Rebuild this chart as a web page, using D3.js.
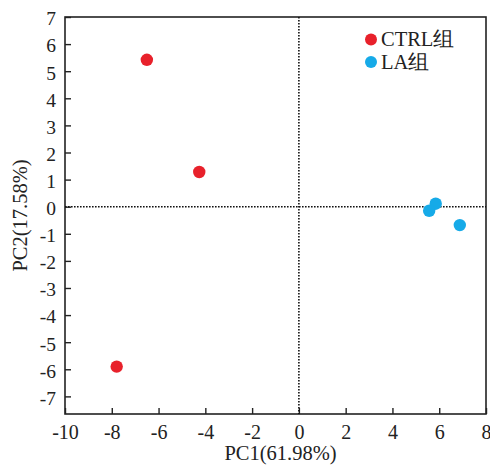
<!DOCTYPE html>
<html><head><meta charset="utf-8">
<script src="https://cdn.jsdelivr.net/npm/d3@7/dist/d3.min.js"></script>
<style>
body{margin:0;background:#fff;}
text{font-family:"Liberation Serif","Times New Roman",serif;fill:#222;}
</style></head>
<body><svg id="c" width="490" height="465"></svg>
<script>
const groups = ["CTRL组", "LA组"];
const colors = ["#e8212b", "#16aae8"];
const ctrlPC1 = [-6.5, -4.26, -7.79];
const ctrlPC2 = [5.42, 1.28, -5.9];
const laPC1 = [5.85, 5.57, 6.88];
const laPC2 = [0.11, -0.15, -0.68];
const xTicks = [-10, -8, -6, -4, -2, 0, 2, 4, 6, 8];
const yTicks = [-7, -6, -5, -4, -3, -2, -1, 0, 1, 2, 3, 4, 5, 6, 7];
const xTitle = "PC1(61.98%)";
const yTitle = "PC2(17.58%)";

const svg = d3.select("#c");
const L = 65, R = 486, T = 17, B = 414;
const x = d3.scaleLinear().domain([-10, 8]).range([L, R]);
const y = d3.scaleLinear().domain([-7.65, 7]).range([B, T]);

// x axis
const gx = svg.append("g").attr("transform", `translate(0,${B})`)
  .call(d3.axisBottom(x).tickValues(xTicks).tickSizeInner(-6).tickSizeOuter(0).tickPadding(11));
gx.select(".domain").remove();
gx.selectAll("line").attr("stroke", "#222").attr("stroke-width", 1.4);
gx.selectAll("text").style("font-size", "20px").attr("fill", "#222").text(d => (d < 0 ? "-" + Math.abs(d) : d));

const gy = svg.append("g").attr("transform", `translate(${L},0)`)
  .call(d3.axisLeft(y).tickValues(yTicks).tickSizeInner(-6).tickSizeOuter(0).tickPadding(9));
gy.select(".domain").remove();
gy.selectAll("line").attr("stroke", "#222").attr("stroke-width", 1.4);
gy.selectAll("text").style("font-size", "19.5px").attr("fill", "#222").attr("dy", "0.4em")
  .text(d => (d < 0 ? "-" + Math.abs(d) : d));

// frame
svg.append("rect").attr("x", L).attr("y", T).attr("width", R - L).attr("height", B - T)
  .attr("fill", "none").attr("stroke", "#222").attr("stroke-width", 1.6);

// zero lines
svg.append("line").attr("x1", x(0)).attr("x2", x(0)).attr("y1", T).attr("y2", B)
  .attr("stroke", "#111").attr("stroke-width", 1.6).attr("stroke-dasharray", "1.6,1.4");
svg.append("line").attr("x1", L).attr("x2", R).attr("y1", y(0)).attr("y2", y(0))
  .attr("stroke", "#111").attr("stroke-width", 1.6).attr("stroke-dasharray", "1.6,1.4");

// points
const series = [
  {name: groups[0], color: colors[0], xs: ctrlPC1, ys: ctrlPC2},
  {name: groups[1], color: colors[1], xs: laPC1, ys: laPC2}
];
series.forEach(s => {
  svg.append("g").selectAll("circle").data(s.xs.map((v, i) => [v, s.ys[i]])).join("circle")
    .attr("cx", d => x(d[0])).attr("cy", d => y(d[1])).attr("r", 6.2).attr("fill", s.color);
});

// legend
series.forEach((s, i) => {
  const cy = 39.5 + i * 22.5;
  svg.append("circle").attr("cx", 371).attr("cy", cy).attr("r", 6).attr("fill", s.color);
  svg.append("text").attr("x", 381).attr("y", cy + 6.5).style("font-size", "20.5px").text(s.name);
});

// titles
svg.append("text").attr("x", (L + R) / 2 + 5).attr("y", 460).attr("text-anchor", "middle")
  .style("font-size", "20.5px").text(xTitle);
svg.append("text").attr("transform", `translate(27,${(T + B) / 2}) rotate(-90)`).attr("text-anchor", "middle")
  .style("font-size", "20.5px").text(yTitle);
</script></body></html>
